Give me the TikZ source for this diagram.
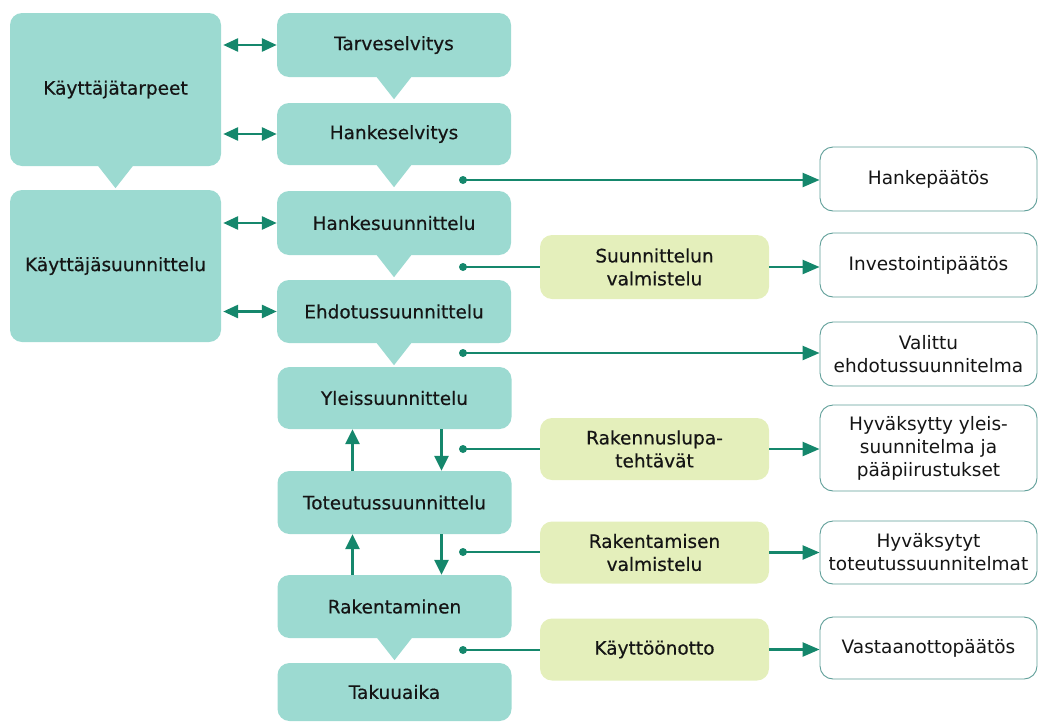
\documentclass[tikz,border=0pt]{standalone}
\usepackage{fontspec}
\setmainfont{DejaVu Sans}
\newfontfamily\boxfont[FakeBold=0.5]{DejaVu Sans}
\usetikzlibrary{arrows.meta}
\definecolor{tealbox}{HTML}{9CDAD1}
\definecolor{limebox}{HTML}{E4EFBB}
\definecolor{arrowc}{HTML}{15876C}
\definecolor{rbord}{HTML}{5E9E98}
\definecolor{txt}{HTML}{151515}
\begin{document}
\begin{tikzpicture}[x=1pt,y=-1pt,
  every node/.style={font=\fontsize{18.5}{23}\selectfont, text=txt, align=center, inner sep=0pt},
  tbox/.style={fill=tealbox, rounded corners=12pt, minimum width=234pt, minimum height=63pt, font=\boxfont\fontsize{18.5}{23}\selectfont},
  kbox/.style={fill=tealbox, rounded corners=12pt, minimum width=211pt, minimum height=153pt, font=\boxfont\fontsize{18.5}{23}\selectfont},
  ybox/.style={fill=limebox, rounded corners=12pt, minimum width=229pt, minimum height=62pt, font=\boxfont\fontsize{18.5}{23}\selectfont},
  rbox/.style={draw=rbord, line width=0.9pt, fill=white, rounded corners=13pt, minimum width=217pt, minimum height=64pt},
  dbl/.style={draw=arrowc, line width=2.8pt, {Triangle[length=15pt,width=13pt]}-{Triangle[length=15pt,width=13pt]}},
  varr/.style={draw=arrowc, line width=2.8pt, -{Triangle[length=15pt,width=14pt]}},
  harr/.style={draw=arrowc, line width=2.4pt, -{Triangle[length=17pt,width=14pt]}},
  hline/.style={draw=arrowc, line width=2.4pt},
  dotc/.style={fill=arrowc},
  ptr/.style={fill=tealbox}
]
\useasboundingbox (0,0) rectangle (1041,723);

% left column
\node[kbox] (k1) at (115.5,89.5) {Käyttäjätarpeet};
\node[kbox, minimum height=152pt] (k2) at (115.5,266) {Käyttäjäsuunnittelu};

% center column
\node[tbox, minimum height=64pt] (t1) at (394,45) {Tarveselvitys};
\node[tbox, minimum height=62pt] (t2) at (394,134) {Hankeselvitys};
\node[tbox, minimum height=64pt] (t3) at (394,223) {Hankesuunnittelu};
\node[tbox] (t4) at (394,311.5) {Ehdotussuunnittelu};
\node[tbox, minimum height=62pt] (t5) at (394.5,398) {Yleissuunnittelu};
\node[tbox] (t6) at (394.5,502.5) {Toteutussuunnittelu};
\node[tbox] (t7) at (394.5,606.5) {Rakentaminen};
\node[tbox, minimum height=58pt] (t8) at (394.5,692) {Takuuaika};

% pointer triangles
\foreach \n in {k1,t1,t2,t3,t4,t7}{
  \fill[ptr] ([xshift=-18pt,yshift=1pt]\n.south) -- ([xshift=18pt,yshift=1pt]\n.south) -- ([yshift=-22pt]\n.south) -- cycle;
}

% yellow boxes
\node[ybox, minimum height=64pt] (s1) at (654.5,267) {Suunnittelun\\valmistelu};
\node[ybox] (s2) at (654.5,449) {Rakennuslupa-\\tehtävät};
\node[ybox] (s3) at (654.5,552.5) {Rakentamisen\\valmistelu};
\node[ybox] (s4) at (654.5,649.5) {Käyttöönotto};

% right boxes
\node[rbox] (r1) at (928.5,179) {Hankepäätös};
\node[rbox] (r2) at (928.5,265) {Investointipäätös};
\node[rbox] (r3) at (928.5,354) {Valittu\\ehdotussuunnitelma};
\node[rbox, minimum height=86pt] (r4) at (928.5,448) {Hyväksytty yleis-\\suunnitelma ja\\pääpiirustukset};
\node[rbox, minimum height=63pt] (r5) at (928.5,552.5) {Hyväksytyt\\toteutussuunnitelmat};
\node[rbox, minimum height=62pt] (r6) at (928.5,648) {Vastaanottopäätös};

% double arrows
\draw[dbl, shorten <=2pt] (t1.west -| k1.east) -- (t1.west);
\draw[dbl, shorten <=2pt] (t2.west -| k1.east) -- (t2.west);
\draw[dbl, shorten <=2pt] (t3.west -| k2.east) -- (t3.west);
\draw[dbl, shorten <=2pt] (t4.west -| k2.east) -- (t4.west);

% vertical arrows
\draw[varr] ([xshift=-42pt]t6.north) -- ([xshift=-42pt]t6.north |- t5.south);
\draw[varr] ([xshift=47pt]t5.south) -- ([xshift=47pt]t5.south |- t6.north);
\draw[varr] ([xshift=-42pt]t7.north) -- ([xshift=-42pt]t7.north |- t6.south);
\draw[varr] ([xshift=47pt]t6.south) -- ([xshift=47pt]t6.south |- t7.north);

% dot start points
\coordinate (d1) at (463,180);
\coordinate (d2) at (463,267);
\coordinate (d3) at (463,353);
\coordinate (d4) at (463,449);
\coordinate (d5) at (463,552);
\coordinate (d6) at (463,650);
\foreach \d in {d1,d2,d3,d4,d5,d6}{\fill[dotc] (\d) circle (4pt);}

% horizontal connectors
\draw[harr] (d1) -- (d1 -| r1.west);
\draw[harr] (d3) -- (d3 -| r3.west);
\draw[hline] (d2) -- (d2 -| s1.west);
\draw[hline] (d4) -- (d4 -| s2.west);
\draw[hline] (d5) -- (d5 -| s3.west);
\draw[hline] (d6) -- (d6 -| s4.west);
\draw[harr] (s1.east) -- (s1.east -| r2.west);
\draw[harr] (s2.east) -- (s2.east -| r4.west);
\draw[harr] (s3.east) -- (s3.east -| r5.west);
\draw[harr] (s4.east) -- (s4.east -| r6.west);
\end{tikzpicture}
\end{document}
